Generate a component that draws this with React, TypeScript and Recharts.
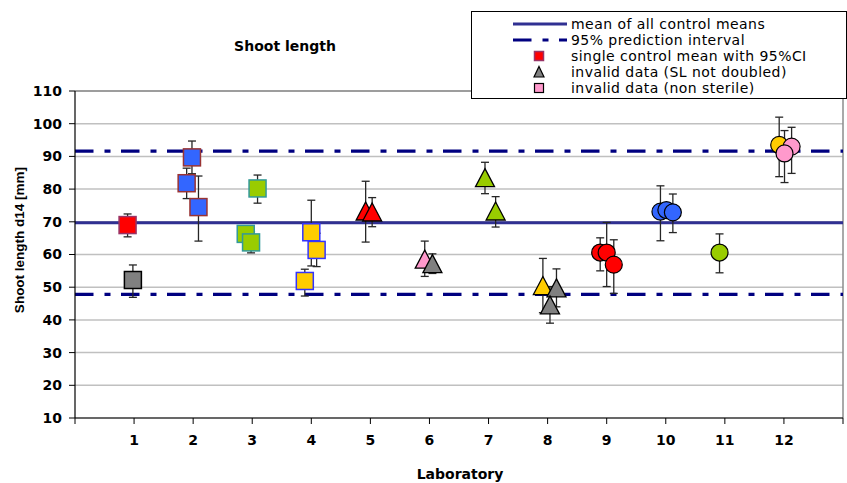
import React from 'react';
import { ComposedChart, Scatter, XAxis, YAxis, CartesianGrid, ReferenceLine, ErrorBar } from 'recharts';

// one entry per control mean
const labs = [1, 1, 2, 2, 2, 3, 3, 3, 4, 4, 4, 5, 5, 6, 6, 7, 7, 8, 8, 8, 9, 9, 9, 10, 10, 10, 11, 12, 12, 12];
const xPos = [0.89, 0.98, 1.98, 1.89, 2.09, 3.09, 2.89, 2.98, 4.0, 4.09, 3.89, 4.92, 5.03, 5.92, 6.05, 6.94, 7.12, 7.92, 8.15, 8.04, 8.89, 9.0, 9.12, 9.91, 10.01, 10.12, 10.91, 11.92, 12.13, 12.01];
const means = [69.0, 52.2, 89.7, 81.8, 74.5, 80.2, 66.3, 63.7, 66.8, 61.4, 51.9, 73.3, 73.0, 58.6, 57.2, 83.5, 73.3, 50.5, 49.8, 44.6, 60.6, 60.6, 56.9, 73.1, 73.6, 72.9, 60.6, 93.5, 93.0, 90.9];
const ciLow = [65.4, 46.9, 84.7, 77.1, 64.1, 75.7, 64.0, 60.5, 56.5, 56.3, 47.3, 63.8, 68.5, 53.3, 54.2, 78.6, 68.4, 42.2, 44.0, 39.0, 55.0, 50.2, 48.1, 64.2, 71.6, 66.7, 54.4, 83.8, 84.8, 82.0];
const ciHigh = [72.4, 56.8, 94.7, 86.4, 84.0, 84.3, 68.6, 67.0, 76.6, 66.5, 55.5, 82.4, 77.4, 64.1, 60.2, 88.2, 77.7, 58.8, 55.6, 50.2, 65.1, 69.8, 64.5, 81.0, 75.6, 78.5, 66.3, 102.0, 98.9, 97.9];
// ok = valid, sl = invalid (SL not doubled), ns = invalid (non sterile)
const status = ['ok', 'sl', 'ok', 'ok', 'ok', 'ok', 'ok', 'ok', 'ok', 'ok', 'ok', 'ok', 'ok', 'ns', 'sl', 'ok', 'ok', 'ok', 'sl', 'sl', 'ok', 'ok', 'ok', 'ok', 'ok', 'ok', 'ok', 'ok', 'ns', 'ns'];

const meanOfMeans = 69.7;
const predLow = 47.8;
const predHigh = 91.6;

const yTicks = [10, 20, 30, 40, 50, 60, 70, 80, 90, 100, 110];
const xTicks = [0, 1, 2, 3, 4, 5, 6, 7, 8, 9, 10, 11, 12, 13];

const legendLabels = [
  'mean of all control means',
  '95% prediction interval',
  'single control mean with 95%CI',
  'invalid data (SL not doubled)',
  'invalid data (non sterile)',
];

const labFills = ['#ff0000', '#3366ff', '#99cc00', '#ffcc00'];
const squareEdges = ['#993366', '#993333', '#339999', '#3333ff'];
const MEAN_BLUE = '#303092';
const NAVY = '#000080';
const DASH = '18.5 11 6 10.5';

const shapeOf = (lab: number) => (lab <= 4 ? 'square' : lab <= 8 ? 'triangle' : 'circle');

const rows = labs.map((lab, i) => ({
  lab,
  x: xPos[i],
  y: means[i],
  err: [means[i] - ciLow[i], ciHigh[i] - means[i]],
  status: status[i],
}));

const Marker = (props: any) => {
  const { cx, cy, payload } = props;
  if (cx == null || cy == null) return null;
  const lab = payload.lab;
  const shape = shapeOf(lab);
  let fill = labFills[(lab - 1) % 4];
  let stroke = shape === 'square' ? squareEdges[(lab - 1) % 4] : '#000';
  if (payload.status === 'sl') {
    fill = '#808080';
    stroke = '#000';
  } else if (payload.status === 'ns') {
    fill = '#ff99cc';
    stroke = '#000';
  }
  if (shape === 'square') {
    return <rect x={cx - 8.5} y={cy - 8.5} width={17} height={17} fill={fill} stroke={stroke} strokeWidth={1.5} />;
  }
  if (shape === 'triangle') {
    const pts = `${cx},${cy - 9} ${cx + 9.5},${cy + 9} ${cx - 9.5},${cy + 9}`;
    return <polygon points={pts} fill={fill} stroke={stroke} strokeWidth={1.3} strokeLinejoin="miter" />;
  }
  return <circle cx={cx} cy={cy} r={8.5} fill={fill} stroke={stroke} strokeWidth={1.2} />;
};

const LegendIcon = ({ index }: { index: number }) => {
  if (index === 0) {
    return <line x1={0} y1={8} x2={54} y2={8} stroke={MEAN_BLUE} strokeWidth={2.8} />;
  }
  if (index === 1) {
    return <line x1={0} y1={8} x2={54} y2={8} stroke={NAVY} strokeWidth={3} strokeDasharray={DASH} />;
  }
  if (index === 2) {
    return <rect x={21.5} y={3.5} width={9} height={9} fill="#ff0000" stroke="#993366" strokeWidth={1.5} />;
  }
  if (index === 3) {
    return <polygon points="26,2.5 31,13 21,13" fill="#808080" stroke="#000" strokeWidth={1.2} />;
  }
  return <rect x={21.5} y={3.5} width={9} height={9} fill="#ff99cc" stroke="#000" strokeWidth={1.2} />;
};

const boldWide = '"DejaVu Sans", sans-serif';

export default function App() {
  const squares = rows.filter((r) => shapeOf(r.lab) === 'square');
  const triangles = rows.filter((r) => shapeOf(r.lab) === 'triangle');
  const circles = rows.filter((r) => shapeOf(r.lab) === 'circle');

  return (
    <div style={{ position: 'absolute', left: 0, top: 0, width: 847, height: 483, background: '#fff', overflow: 'hidden' }}>
      <ComposedChart width={847} height={483} margin={{ top: 91, right: 4, bottom: 0, left: 0 }}>
        <CartesianGrid vertical={false} stroke="#c0c0c0" strokeWidth={1.5} />
        <XAxis
          type="number"
          dataKey="x"
          domain={[0, 13]}
          ticks={xTicks}
          interval={0}
          height={65}
          allowDataOverflow
          axisLine={{ stroke: '#000', strokeWidth: 1.2 }}
          tickLine={{ stroke: '#000' }}
          tickSize={6}
          tickMargin={11}
          tick={{ fill: '#000', fontSize: 14, fontWeight: 'bold', fontFamily: boldWide }}
          tickFormatter={(v: number) => (v >= 1 && v <= 12 ? String(v) : '')}
        />
        <YAxis
          type="number"
          dataKey="y"
          domain={[10, 110]}
          ticks={yTicks}
          interval={0}
          width={75}
          allowDataOverflow
          axisLine={{ stroke: '#000', strokeWidth: 1.2 }}
          tickLine={{ stroke: '#000' }}
          tickSize={6}
          tickMargin={7}
          tick={{ fill: '#000', fontSize: 14, fontWeight: 'bold', fontFamily: boldWide }}
        />
        <ReferenceLine y={110} stroke="#8c8c8c" strokeWidth={1.5} />
        <ReferenceLine x={13} stroke="#8c8c8c" strokeWidth={1.5} />
        <ReferenceLine y={meanOfMeans} stroke={MEAN_BLUE} strokeWidth={3} />
        <ReferenceLine y={predHigh} stroke={NAVY} strokeWidth={3.3} strokeDasharray={DASH} />
        <ReferenceLine y={predLow} stroke={NAVY} strokeWidth={3.3} strokeDasharray={DASH} />
        <Scatter data={squares} shape={Marker} isAnimationActive={false}>
          <ErrorBar dataKey="err" direction="y" width={4} stroke="#262626" strokeWidth={1.3} />
        </Scatter>
        <Scatter data={triangles} shape={Marker} isAnimationActive={false}>
          <ErrorBar dataKey="err" direction="y" width={4} stroke="#262626" strokeWidth={1.3} />
        </Scatter>
        <Scatter data={circles} shape={Marker} isAnimationActive={false}>
          <ErrorBar dataKey="err" direction="y" width={4} stroke="#262626" strokeWidth={1.3} />
        </Scatter>
      </ComposedChart>

      <div style={{ position: 'absolute', left: 225, top: 37, width: 120, textAlign: 'center', fontFamily: boldWide, fontWeight: 'bold', fontSize: 14, lineHeight: '18px' }}>
        Shoot length
      </div>
      <div style={{ position: 'absolute', left: 400, top: 465, width: 120, textAlign: 'center', fontFamily: boldWide, fontWeight: 'bold', fontSize: 14, lineHeight: '18px' }}>
        Laboratory
      </div>
      <div
        style={{
          position: 'absolute',
          left: 20 - 110,
          top: 240 - 9,
          width: 220,
          height: 18,
          lineHeight: '18px',
          textAlign: 'center',
          transform: 'rotate(-90deg)',
          fontFamily: '"Liberation Sans", Arial, sans-serif',
          fontWeight: 'bold',
          fontSize: 13.5,
        }}
      >
        Shoot length d14 [mm]
      </div>

      <div style={{ position: 'absolute', left: 471, top: 11, width: 376, height: 88, boxSizing: 'border-box', border: '1px solid #000', background: '#fff' }}>
        {legendLabels.map((label, i) => (
          <div key={label} style={{ position: 'absolute', left: 0, top: 4 + i * 16, height: 16, width: 370 }}>
            <svg width={56} height={16} style={{ position: 'absolute', left: 41, top: 0 }}>
              <LegendIcon index={i} />
            </svg>
            <span
              style={{
                position: 'absolute',
                left: 99,
                top: 1,
                height: 14,
                lineHeight: '14px',
                fontSize: 14,
                letterSpacing: 0.45,
                fontFamily: boldWide,
                whiteSpace: 'nowrap',
              }}
            >
              {label}
            </span>
          </div>
        ))}
      </div>
    </div>
  );
}
